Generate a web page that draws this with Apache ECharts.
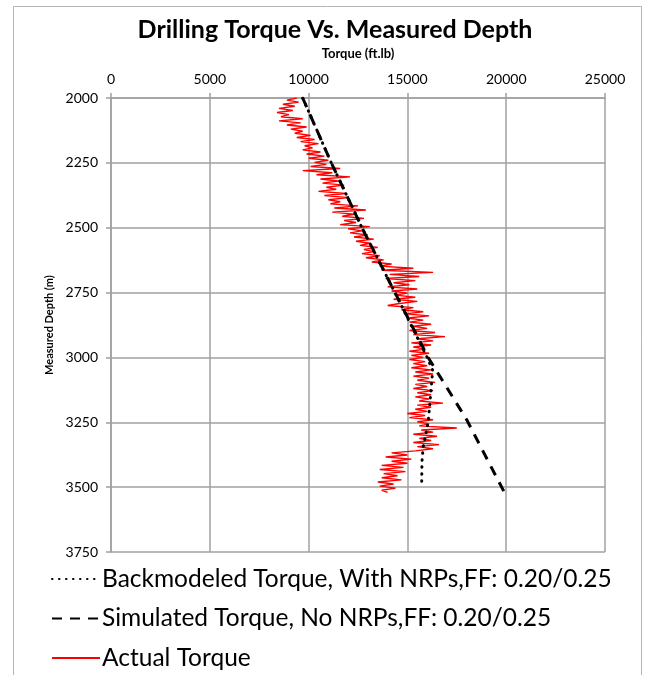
<!DOCTYPE html>
<html><head><meta charset="utf-8">
<script src="https://cdn.jsdelivr.net/npm/echarts@6/dist/echarts.min.js"></script>
<style>html,body{margin:0;padding:0;background:#fff}#c{width:646px;height:675px}</style>
</head><body><div id="c"></div>
<script>
const titleText = 'Drilling Torque Vs. Measured Depth';
const xAxisName = 'Torque (ft.lb)';
const yAxisName = 'Measured Depth (m)';
const seriesNames = ['Backmodeled Torque, With NRPs,FF: 0.20/0.25', 'Simulated Torque, No NRPs,FF: 0.20/0.25', 'Actual Torque'];

// [torque, depth]
const backmodeled = [[9700,2000],[11150,2250],[12700,2500],[14370,2750],[16000,3000],[16280,3050],[16140,3175],[16050,3250],[15800,3345],[15740,3400],[15720,3502]];
const simulated = [[9700,2000],[11150,2250],[12700,2500],[14370,2750],[16050,3000],[18000,3240],[19940,3525]];
const actual = [
[9400,2000],[8900,2008],[9500,2016],[8700,2024],[9300,2032],[8500,2040],[9200,2048],[8400,2056],[9000,2064],[8600,2072],
[9700,2080],[8500,2088],[9600,2096],[8900,2104],[9900,2112],[9100,2120],[9700,2128],[9300,2136],[10100,2144],[9400,2152],
[10300,2160],[9600,2168],[10500,2176],[9800,2184],[10200,2192],[9700,2200],[10600,2208],[9900,2216],[10800,2224],[10000,2232],
[11000,2240],[10300,2248],[10900,2256],[10100,2264],[11600,2272],[9700,2280],[11200,2288],[10400,2296],[12100,2304],[10600,2312],
[11500,2320],[10700,2328],[11800,2336],[10900,2344],[11400,2352],[10500,2360],[11900,2368],[10800,2376],[12000,2384],[11000,2392],
[11600,2400],[11100,2408],[12500,2416],[11300,2424],[12900,2432],[11200,2440],[12300,2448],[11700,2456],[12800,2464],[11800,2472],
[12400,2480],[11600,2488],[13100,2496],[12000,2504],[12700,2512],[12100,2520],[13000,2528],[12300,2536],[13300,2544],[12400,2552],
[13100,2560],[12600,2568],[13500,2576],[12800,2584],[13300,2592],[12700,2600],[13600,2608],[12900,2616],[13800,2624],[13200,2632],
[14200,2640],[13600,2648],[15300,2656],[13700,2664],[16300,2672],[14100,2680],[15600,2688],[13900,2696],[15400,2704],[14300,2712],
[15100,2720],[14000,2728],[15500,2736],[14200,2744],[15000,2752],[14400,2760],[15400,2768],[14300,2776],[15500,2784],[14600,2792],
[14000,2800],[15300,2808],[14700,2816],[15800,2824],[14900,2832],[16100,2840],[15000,2848],[15800,2856],[15100,2864],[16200,2872],
[15300,2880],[16000,2888],[15100,2896],[16400,2904],[15300,2912],[16900,2920],[15500,2928],[16300,2936],[15200,2944],[16200,2952],
[15300,2960],[15900,2968],[15100,2976],[16100,2984],[15200,2992],[15800,3000],[15100,3008],[15900,3016],[15300,3024],[16000,3032],
[15200,3040],[16200,3048],[15400,3056],[16300,3064],[15300,3072],[16100,3080],[15500,3088],[16400,3096],[15400,3104],[16000,3112],
[15300,3120],[16300,3128],[15500,3136],[16200,3144],[15400,3152],[16100,3160],[15600,3168],[16800,3176],[15500,3184],[16200,3192],
[15400,3200],[16000,3208],[15000,3216],[15900,3224],[15100,3232],[16300,3240],[15500,3248],[16100,3256],[15600,3264],[17500,3272],
[15700,3280],[16300,3288],[15300,3296],[16500,3304],[15600,3312],[16200,3320],[15300,3328],[16600,3336],[15500,3344],[16300,3352],
[15400,3360],[14200,3368],[15000,3376],[13900,3384],[15200,3392],[14200,3400],[15000,3408],[13700,3416],[14800,3424],[13600,3432],
[14900,3440],[13800,3448],[14500,3456],[13700,3464],[14700,3472],[13500,3480],[14300,3488],[13600,3496],[14400,3504],[13700,3512],[14000,3520]
];
const xTicks = {min:0, max:25000, interval:5000};
const yTicks = {min:2000, max:3750, interval:250};

const FONT = 'Lato';
const plain = v => String(v);
const chart = echarts.init(document.getElementById('c'), null, {renderer:'canvas'});
chart.setOption({
  animation:false,
  backgroundColor:'#fff',
  title:{text:titleText, left:330, textAlign:'center', top:12,
    textStyle:{fontFamily:FONT, fontWeight:'bold', fontSize:25, color:'#000'}},
  grid:{left:111, right:41, top:98, bottom:123, containLabel:false},
  xAxis:{type:'value', position:'top', min:xTicks.min, max:xTicks.max, interval:xTicks.interval,
    name:xAxisName, nameLocation:'middle', nameGap:38,
    nameTextStyle:{fontFamily:FONT, fontWeight:'bold', fontSize:13, color:'#000'},
    axisLine:{show:true, lineStyle:{color:'#a0a0a0', width:1.5}},
    axisTick:{show:true, length:5, lineStyle:{color:'#a0a0a0', width:1.5}},
    axisLabel:{fontFamily:FONT, fontSize:14, color:'#000', margin:12, formatter:plain},
    splitLine:{show:true, lineStyle:{color:'#a0a0a0', width:1.5}}},
  yAxis:{type:'value', inverse:true, min:yTicks.min, max:yTicks.max, interval:yTicks.interval,
    name:yAxisName, nameLocation:'middle', nameGap:56, nameRotate:90,
    nameTextStyle:{fontFamily:FONT, fontWeight:'bold', fontSize:11, color:'#000'},
    axisLine:{show:true, lineStyle:{color:'#a0a0a0', width:1.5}},
    axisTick:{show:true, length:5, lineStyle:{color:'#a0a0a0', width:1.5}},
    axisLabel:{fontFamily:FONT, fontSize:14, color:'#000', margin:13, formatter:plain},
    splitLine:{show:true, lineStyle:{color:'#a0a0a0', width:1.5}}},
  legend:{orient:'vertical', left:46, top:561, height:120, itemWidth:48, itemHeight:14, itemGap:13.5,
    itemStyle:{opacity:0},
    textStyle:{fontFamily:FONT, fontSize:24.5, color:'#000', lineHeight:26, padding:[0,0,0,-3]},
    data:seriesNames},
  graphic:[{type:'rect', shape:{x:13.5, y:6.5, width:628, height:700}, style:{fill:null, stroke:'#b4b4b4', lineWidth:1}, silent:true, z:-1}],
  series:[
    {name:seriesNames[0], type:'line', data:backmodeled, symbol:'none', z:4,
      lineStyle:{color:'#000', width:3, type:[0.5,6.5], cap:'round'}, itemStyle:{color:'#000'}},
    {name:seriesNames[1], type:'line', data:simulated, symbol:'none', z:3,
      lineStyle:{color:'#000', width:3, type:[10,8]}, itemStyle:{color:'#000'}},
    {name:seriesNames[2], type:'line', data:actual, symbol:'none', z:2,
      lineStyle:{color:'#ff0000', width:1.4}, itemStyle:{color:'#ff0000'}}
  ]
});
</script></body></html>
